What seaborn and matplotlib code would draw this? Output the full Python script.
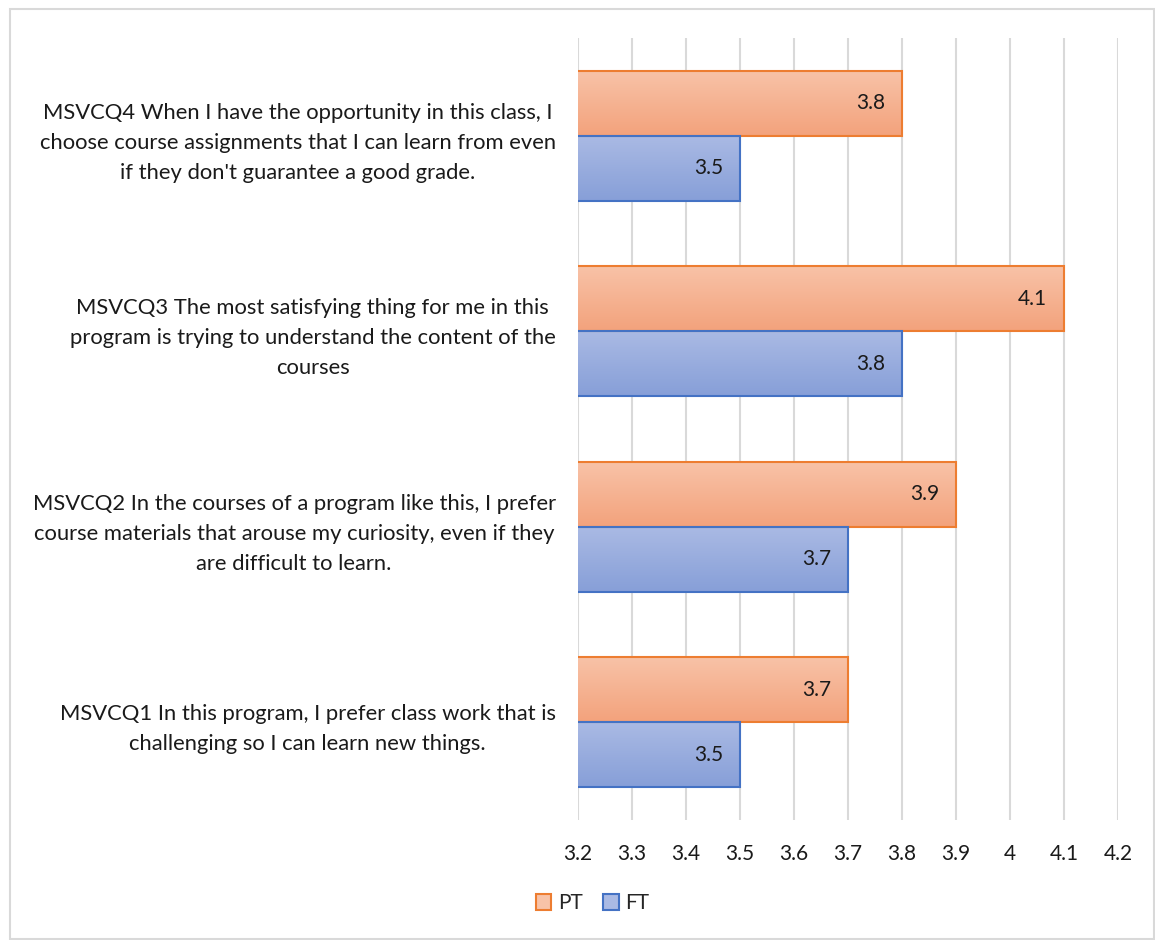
import numpy as np
import pandas as pd
import matplotlib
matplotlib.use('Agg')
import matplotlib.pyplot as plt
import seaborn as sns
from matplotlib.colors import LinearSegmentedColormap
from matplotlib.patches import Rectangle, Patch

# Data (top to bottom as shown)
questions = [
    "MSVCQ4 When I have the opportunity in this class, I\nchoose course assignments that I can learn from even\nif they don't guarantee a good grade.",
    "MSVCQ3 The most satisfying thing for me in this\nprogram is trying to understand the content of the\ncourses",
    "MSVCQ2 In the courses of a program like this, I prefer\ncourse materials that arouse my curiosity, even if they\nare difficult to learn.",
    "MSVCQ1 In this program, I prefer class work that is\nchallenging so I can learn new things.",
]
pt_scores = [3.8, 4.1, 3.9, 3.7]
ft_scores = [3.5, 3.8, 3.7, 3.5]
groups = ['PT', 'FT']
x_ticks = [3.2, 3.3, 3.4, 3.5, 3.6, 3.7, 3.8, 3.9, 4.0, 4.1, 4.2]

df = pd.DataFrame({
    'question': questions * 2,
    'group': ['PT'] * len(questions) + ['FT'] * len(questions),
    'score': pt_scores + ft_scores,
})

edge_colors = {'PT': '#ED7D31', 'FT': '#4472C4'}
grad = {'PT': ('#F8C3A8', '#F3A27C'), 'FT': ('#AABAE4', '#879FD8')}

sns.set_style('white')
plt.rcParams['font.family'] = ['Lato', 'DejaVu Sans']

fig = plt.figure(figsize=(11.55, 9.4), dpi=100)
ax = fig.add_axes([0.5004, 0.1277, 0.4675, 0.8319])

sns.barplot(data=df, y='question', x='score', hue='group', order=questions,
            hue_order=groups, palette=edge_colors, width=0.667, orient='h',
            ax=ax, legend=False, saturation=1)

ax.set_xlim(3.2, 4.2)
ax.set_ylim(3.5, -0.5)

# gradient fill for bars
for container, g in zip(ax.containers, groups):
    cmap = LinearSegmentedColormap.from_list(g, [grad[g][0], grad[g][1]])
    for bar in container:
        bar.set_facecolor('none')
        bar.set_edgecolor(edge_colors[g])
        bar.set_linewidth(1.5)
        x0 = 3.2
        w = bar.get_x() + bar.get_width()
        y0 = bar.get_y()
        h = bar.get_height()
        im = ax.imshow(np.linspace(0, 1, 64).reshape(-1, 1), cmap=cmap, aspect='auto',
                       extent=[x0, w, y0 + h, y0], origin='upper', zorder=1.5)
        im.set_clip_path(bar)
        bar.set_zorder(2)
        ax.annotate(f'{w:g}', xy=(w, y0 + h / 2), xytext=(-12, 0),
                    textcoords='offset points', ha='right', va='center',
                    fontsize=15, color='#1a1a1a', zorder=3)

ax.set_xlim(3.2, 4.2)
ax.set_ylim(3.5, -0.5)
ax.set_xticks(x_ticks)
ax.set_xticklabels([f'{t:g}' for t in x_ticks])
ax.xaxis.grid(True, color='#D9D9D9', linewidth=1.5)
ax.set_axisbelow(True)
for s in ax.spines.values():
    s.set_visible(False)
ax.tick_params(axis='x', length=0, pad=17, labelsize=15, labelcolor='#1a1a1a')
ax.tick_params(axis='y', length=0, pad=16, labelsize=15.8, labelcolor='#1a1a1a')
for lbl in ax.get_yticklabels():
    lbl.set_multialignment('center')
    lbl.set_linespacing(1.62)
ax.set_xlabel('')
ax.set_ylabel('')

handles = [Patch(facecolor=grad[g][0], edgecolor=edge_colors[g], linewidth=1.5, label=g)
           for g in groups]
fig.legend(handles=handles, loc='center', bbox_to_anchor=(0.513, 0.039), ncol=2,
           frameon=False, fontsize=15, handlelength=0.75, handleheight=0.75,
           handletextpad=0.3, columnspacing=1.0)

fig.patches.append(Rectangle((10 / 1155, 0.001), 1 - 10 / 1155 - 0.001, 1 - 9 / 940 - 0.001,
                             transform=fig.transFigure, fill=False,
                             edgecolor='#D9D9D9', linewidth=1.5))

fig.savefig('out.png', dpi=100)
